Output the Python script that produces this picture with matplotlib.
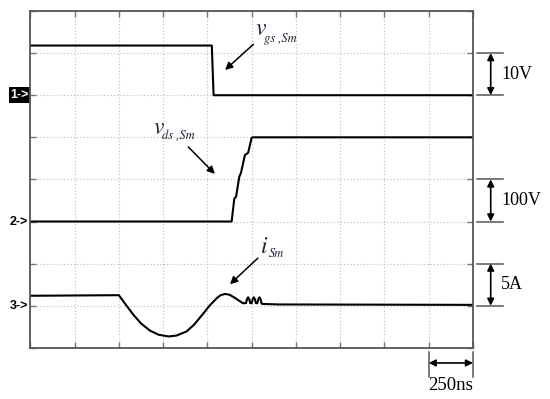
import matplotlib
matplotlib.use("Agg")
import matplotlib.pyplot as plt
from matplotlib.patches import Rectangle

# ---- scope settings ----
time_per_div = 250.0          # ns/div
vgs_scale, vgs_zero = 10.0, 6  # V/div, ground division (1->)
vds_scale, vds_zero = 100.0, 3 # V/div, ground division (2->)
i_scale, i_zero = 5.0, 1       # A/div, ground division (3->)

# ---- data ----
vgs_t = [0, 1025, 1035, 2500]
vgs_v = [11.8, 11.8, 0.0, 0.0]

vds_t = [0, 1137, 1152, 1162, 1180, 1190, 1212, 1230, 1250, 1257, 2500]
vds_v = [0, 0, 54, 59, 106, 116, 158, 163, 199, 200, 200]

i_t = [0, 500, 540, 583, 625, 675, 725, 780, 825, 883, 925, 978, 1012, 1053, 1075,
       1100, 1125, 1150, 1175, 1200, 1218, 1224, 1230, 1236, 1242, 1250, 1256, 1262,
       1268, 1274, 1282, 1288, 1294, 1300, 1306, 1315, 1330, 1400, 2500]
i_a = [1.18, 1.25, 0.1, -1.1, -2.1, -2.95, -3.45, -3.65, -3.55, -3.05, -2.25, -0.9, 0.0, 0.9, 1.25,
       1.4, 1.3, 1.0, 0.65, 0.3, 0.3, 0.8, 1.0, 0.8, 0.3, 0.3, 0.8, 1.0,
       0.8, 0.3, 0.3, 0.8, 1.0, 0.8, 0.25, 0.2, 0.2, 0.15, 0.1]

scale_labels = ['10V', '100V', '5A']
time_label = '250ns'
channel_labels = ['1->', '2->', '3->']
trace_names = [('v', 'gs ,Sm'), ('v', 'ds ,Sm'), ('i', 'Sm')]


def tx(t):
    return [v / time_per_div for v in t]


def ty(vals, scale, zero):
    return [zero + v / scale for v in vals]


fig = plt.figure(figsize=(5.5, 3.99), dpi=100)
ax = fig.add_axes([0.0551, 0.1283, 0.8049, 0.8441])
ax.set_xlim(0, 10)
ax.set_ylim(0, 8)
ax.set_xticks(range(0, 11))
ax.set_yticks(range(0, 9))
ax.set_xticklabels([])
ax.set_yticklabels([])
ax.grid(True, ls=(0, (1, 2)), color='#bbbbbb', lw=0.8)
ax.tick_params(direction='in', length=4.5, color='#777777', top=True, right=True, width=1)
for s in ax.spines.values():
    s.set_color('#555555')
    s.set_linewidth(1.3)

ax.plot(tx(vgs_t), ty(vgs_v, vgs_scale, vgs_zero), color='black', lw=1.5)
ax.plot(tx(vds_t), ty(vds_v, vds_scale, vds_zero), color='black', lw=1.5)
ax.plot(tx(i_t), ty(i_a, i_scale, i_zero), color='black', lw=1.5)

# labels with arrows
lab_color = '#22223a'
label_pos = [((5.08, 7.42), (5.27, 7.27)),
             ((2.78, 5.08), (2.97, 4.97)),
             ((5.21, 2.25), (5.38, 2.16))]
for (main, sub), (p_main, p_sub) in zip(trace_names, label_pos):
    ax.text(p_main[0], p_main[1], main, fontsize=17, family='STIXGeneral', style='italic',
            color=lab_color, ha='left', va='baseline')
    ax.text(p_sub[0], p_sub[1], sub, fontsize=9, family='STIXGeneral', style='italic',
            color=lab_color, ha='left', va='baseline')

arrow_kw = dict(arrowstyle='-|>', color='black', lw=1.1, mutation_scale=11, shrinkA=0, shrinkB=0)
ax.annotate('', xy=(4.40, 6.60), xytext=(5.04, 7.21), arrowprops=arrow_kw)
ax.annotate('', xy=(4.17, 4.13), xytext=(3.57, 4.77), arrowprops=arrow_kw)
ax.annotate('', xy=(4.51, 1.51), xytext=(5.14, 2.13), arrowprops=arrow_kw)

# right-hand scale bars
dbl_kw = dict(arrowstyle='<|-|>', color='black', lw=1.2, mutation_scale=10, shrinkA=0, shrinkB=0)
for zero, lab in zip([vgs_zero, vds_zero, i_zero], scale_labels):
    for yy in (zero, zero + 1):
        ax.plot([10.08, 10.68], [yy, yy], color='#555555', lw=1.1, clip_on=False)
    ax.annotate('', xy=(10.40, zero + 1), xytext=(10.40, zero), arrowprops=dbl_kw,
                annotation_clip=False)
    ax.text(10.64, zero + 0.5, lab, fontsize=13, family='Liberation Serif', ha='left',
            va='center', clip_on=False)

# time scale bar
for xx in (9, 10):
    ax.plot([xx, xx], [-0.095, -0.69], color='#555555', lw=1.1, clip_on=False)
ax.annotate('', xy=(10, -0.36), xytext=(9, -0.36), arrowprops=dbl_kw, annotation_clip=False)
ax.text(9.5, -0.90, time_label, fontsize=13.5, family='Liberation Serif', ha='center',
        va='center', clip_on=False)

# channel markers
for k, (zero, lab) in enumerate(zip([vgs_zero, vds_zero, i_zero], channel_labels)):
    if k == 0:
        ax.add_patch(Rectangle((-0.49, zero - 0.19), 0.49, 0.38, facecolor='black',
                               edgecolor='none', clip_on=False))
        col = 'white'
    else:
        col = 'black'
    ax.text(-0.25, zero, lab, fontsize=9, fontweight='bold', family='Liberation Sans',
            color=col, ha='center', va='center', clip_on=False)

fig.savefig('out.png', dpi=100)
